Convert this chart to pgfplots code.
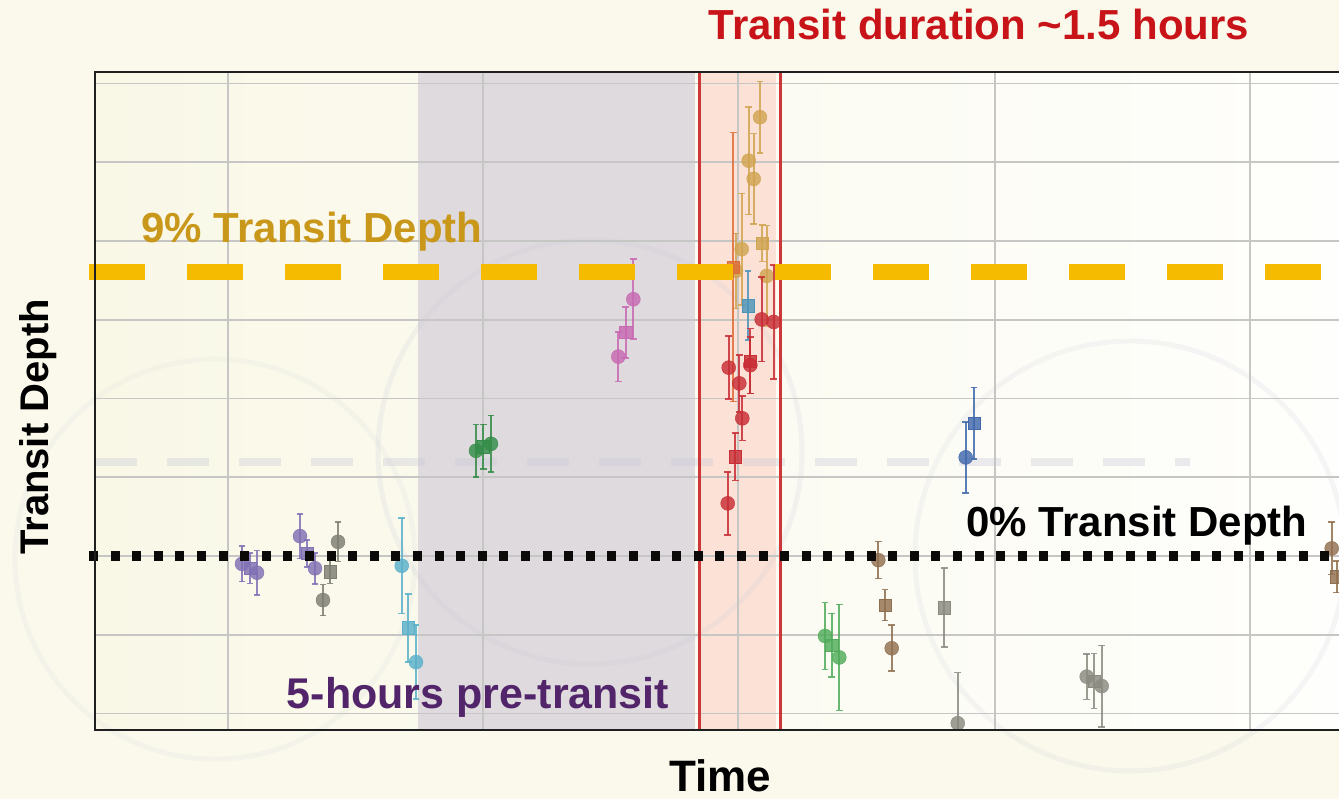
\documentclass[border=0pt]{standalone}
\usepackage{pgfplots}
\pgfplotsset{compat=1.18}
\usepackage{pgfplotstable}
\usepackage{fontspec}
\setmainfont{Liberation Sans}

\definecolor{bgcream}{RGB}{250,249,236}
\definecolor{bgL}{RGB}{249,248,231}
\definecolor{bgM}{RGB}{252,250,238}
\definecolor{bgR}{RGB}{254,254,252}
\definecolor{gridc}{RGB}{198,198,196}
\definecolor{preT}{RGB}{222,218,222}
\definecolor{trT}{RGB}{252,226,214}
\definecolor{trLine}{RGB}{205,55,55}
\definecolor{wm}{RGB}{200,200,215}
\definecolor{orangeline}{RGB}{245,187,0}
\definecolor{dotc}{RGB}{12,10,8}
\definecolor{titlered}{RGB}{200,20,25}
\definecolor{goldtxt}{RGB}{201,151,26}
\definecolor{purptxt}{RGB}{82,36,106}
\definecolor{cPurple}{RGB}{128,112,180}
\definecolor{cGray}{RGB}{125,125,115}
\definecolor{cCyan}{RGB}{90,176,202}
\definecolor{cGreenA}{RGB}{52,140,72}
\definecolor{cPink}{RGB}{200,105,178}
\definecolor{cGold}{RGB}{208,164,80}
\definecolor{cOrange}{RGB}{221,108,55}
\definecolor{cSteel}{RGB}{75,148,185}
\definecolor{cRed}{RGB}{200,45,52}
\definecolor{cGreenB}{RGB}{80,172,90}
\definecolor{cBrown}{RGB}{145,112,80}
\definecolor{cGrayB}{RGB}{138,138,128}
\definecolor{cBlue}{RGB}{65,105,172}

% ---- data: x (time), y (transit depth, %), e (1-sigma) ----
\pgfplotstableread{
x y e
242 -0.25 0.56
257 -0.53 0.70
300 0.63 0.71
315 -0.39 0.49
}\purpleC
\pgfplotstableread{
x y e
250 -0.39 0.48
307 0.08 0.43
}\purpleS
\pgfplotstableread{
x y e
323 -1.40 0.49
338 0.45 0.62
}\grayC
\pgfplotstableread{
x y e
330 -0.50 0.37
}\grayS
\pgfplotstableread{
x y e
401.7 -0.31 1.52
416 -3.37 1.17
}\cyanC
\pgfplotstableread{
x y e
408.3 -2.28 1.08
}\cyanS
\pgfplotstableread{
x y e
476 3.34 0.83
491 3.56 0.90
}\greenAC
\pgfplotstableread{
x y e
483.3 3.47 0.71
}\greenAS
\pgfplotstableread{
x y e
618.3 6.33 0.79
633.3 8.15 1.27
}\pinkC
\pgfplotstableread{
x y e
625.7 7.10 0.81
}\pinkS
\pgfplotstableread{
x y e
736 9.05 1.19
741.7 9.74 1.77
748.7 12.55 1.71
753.7 11.97 1.44
760 13.93 1.13
766.7 8.89 1.60
}\goldC
\pgfplotstableread{
x y e
762.3 9.93 0.58
}\goldS
\pgfplotstableread{
x y e
733.3 9.17 4.27
}\orangeS
\pgfplotstableread{
x y e
748 7.95 1.10
}\steelS
\pgfplotstableread{
x y e
727.7 1.67 1.00
728.7 5.98 1.00
739.3 5.48 0.90
742.3 4.37 0.70
750.3 6.06 0.90
761.7 7.51 1.34
773.7 7.43 1.81
}\redC
\pgfplotstableread{
x y e
735.3 3.15 0.75
750.3 6.19 1.03
}\redS
\pgfplotstableread{
x y e
825 -2.54 1.06
839.3 -3.22 1.68
}\greenBC
\pgfplotstableread{
x y e
831.7 -2.83 1.01
}\greenBS
\pgfplotstableread{
x y e
878.3 -0.13 0.59
891.7 -2.93 0.73
1331.7 0.24 0.83
}\brownC
\pgfplotstableread{
x y e
885 -1.56 0.49
1336.7 -0.66 0.50
}\brownS
\pgfplotstableread{
x y e
957.7 -5.31 1.61
1086.7 -3.83 0.72
1101.7 -4.13 1.29
}\grayBC
\pgfplotstableread{
x y e
944.3 -1.64 1.25
1094 -3.97 0.87
}\grayBS
\pgfplotstableread{
x y e
965.7 3.13 1.13
}\blueC
\pgfplotstableread{
x y e
974 4.21 1.14
}\blueS

\pgfplotsset{
  pt/.style n args={2}{only marks, mark=#2, color=#1, solid,
    mark options={draw=none, fill=#1, fill opacity=0.82, solid},
    error bars/.cd, y dir=both, y explicit,
    error bar style={line width=2pt, color=#1, opacity=0.85, solid},
    error mark options={rotate=90, mark size=3.4pt, line width=1.6pt, color=#1, opacity=0.85, solid}},
  ptc/.style={mark size=7pt, pt={#1}{*}},
  pts/.style={mark size=6.2pt, pt={#1}{square*}},
}

\begin{document}
\begin{tikzpicture}[x=1pt,y=1pt]
\begin{axis}[
  at={(95pt,69pt)}, anchor=south west, scale only axis,
  width=1244pt, height=658pt,
  xmin=95, xmax=1339, ymin=-5.524, ymax=15.365,
  set layers, clip mode=individual,
  axis line style={draw=none},
  xtick={228,483,738,995,1250},
  ytick={-5,-2.5,0,2.5,5,7.5,10,12.5,15},
  xticklabels={}, yticklabels={}, major tick length=0pt,
  grid=major, grid style={line width=1.7pt, color=gridc},
]
\begin{pgfonlayer}{axis background}
  % page background (whole picture)
  \fill[bgcream] ([xshift=-95pt,yshift=-69pt]rel axis cs:0,0)
     rectangle ([yshift=72pt]rel axis cs:1,1);
  \fill[left color=bgL, middle color=bgM, right color=bgR]
     (rel axis cs:0,0) rectangle (rel axis cs:1,1);
  \fill[preT] (axis cs:418,-5.524) rectangle (axis cs:695,15.365);
  \fill[trT] (axis cs:700,-5.524) rectangle (axis cs:776,15.365);
  \draw[wm, opacity=0.18, line width=5pt] (axis cs:590,3.3) circle[radius=212pt];
  \draw[wm, opacity=0.16, line width=5pt] (axis cs:1130,0) circle[radius=215pt];
  \draw[wm, opacity=0.12, line width=5pt] (axis cs:215,-0.1) circle[radius=200pt];
  \draw[wm, opacity=0.35, line width=8pt, dash pattern=on 42pt off 30pt]
     (axis cs:95,2.98) -- (axis cs:1190,2.98);
\end{pgfonlayer}

\draw[trLine, line width=3pt] (axis cs:699,-5.524) -- (axis cs:699,15.365);
\draw[trLine, line width=3pt] (axis cs:780,-5.524) -- (axis cs:780,15.365);

\addplot[ptc=cPurple] table[x=x,y=y,y error=e] {\purpleC};
\addplot[pts=cPurple] table[x=x,y=y,y error=e] {\purpleS};
\addplot[ptc=cGray] table[x=x,y=y,y error=e] {\grayC};
\addplot[pts=cGray] table[x=x,y=y,y error=e] {\grayS};
\addplot[ptc=cCyan] table[x=x,y=y,y error=e] {\cyanC};
\addplot[pts=cCyan] table[x=x,y=y,y error=e] {\cyanS};
\addplot[ptc=cGreenA] table[x=x,y=y,y error=e] {\greenAC};
\addplot[pts=cGreenA] table[x=x,y=y,y error=e] {\greenAS};
\addplot[ptc=cPink] table[x=x,y=y,y error=e] {\pinkC};
\addplot[pts=cPink] table[x=x,y=y,y error=e] {\pinkS};
\addplot[ptc=cGold] table[x=x,y=y,y error=e] {\goldC};
\addplot[pts=cGold] table[x=x,y=y,y error=e] {\goldS};
\addplot[pts=cOrange] table[x=x,y=y,y error=e] {\orangeS};
\addplot[pts=cSteel] table[x=x,y=y,y error=e] {\steelS};
\addplot[ptc=cRed] table[x=x,y=y,y error=e] {\redC};
\addplot[pts=cRed] table[x=x,y=y,y error=e] {\redS};
\addplot[ptc=cGreenB] table[x=x,y=y,y error=e] {\greenBC};
\addplot[pts=cGreenB] table[x=x,y=y,y error=e] {\greenBS};
\addplot[ptc=cBrown] table[x=x,y=y,y error=e] {\brownC};
\addplot[pts=cBrown] table[x=x,y=y,y error=e] {\brownS};
\addplot[ptc=cGrayB] table[x=x,y=y,y error=e] {\grayBC};
\addplot[pts=cGrayB] table[x=x,y=y,y error=e] {\grayBS};
\addplot[ptc=cBlue] table[x=x,y=y,y error=e] {\blueC};
\addplot[pts=cBlue] table[x=x,y=y,y error=e] {\blueS};

% reference lines
\draw[orangeline, line width=16pt, dash pattern=on 56pt off 42pt]
   (axis cs:89,9) -- (axis cs:1339,9);
\draw[dotc, line width=10pt, dash pattern=on 9pt off 12.6pt]
   (axis cs:89,0) -- (axis cs:1339,0);

% axis frame (open on the right, as cropped in the reference)
\draw[black!88, line width=2.2pt] (rel axis cs:1,1) -- (rel axis cs:0,1)
   -- (rel axis cs:0,0) -- (rel axis cs:1,0);
\end{axis}

\node[font=\bfseries\fontsize{42}{46}\selectfont, text=titlered] at (979,774) {Transit duration \textasciitilde1.5 hours};
\node[font=\bfseries\fontsize{42}{46}\selectfont, text=goldtxt] at (312,567) {9\% Transit Depth};
\node[font=\bfseries\fontsize{42}{46}\selectfont, text=black] at (1137,273) {0\% Transit Depth};
\node[font=\bfseries\fontsize{43}{46}\selectfont, text=purptxt] at (478,102) {5-hours pre-transit};
\node[font=\bfseries\fontsize{40}{46}\selectfont, rotate=90] at (38,372) {Transit Depth};
\node[font=\bfseries\fontsize{44}{50}\selectfont, anchor=base, inner sep=0pt] at (720,7) {Time};

\pgfresetboundingbox
\path[use as bounding box] (0,0) rectangle (1339,799);
\end{tikzpicture}
\end{document}
